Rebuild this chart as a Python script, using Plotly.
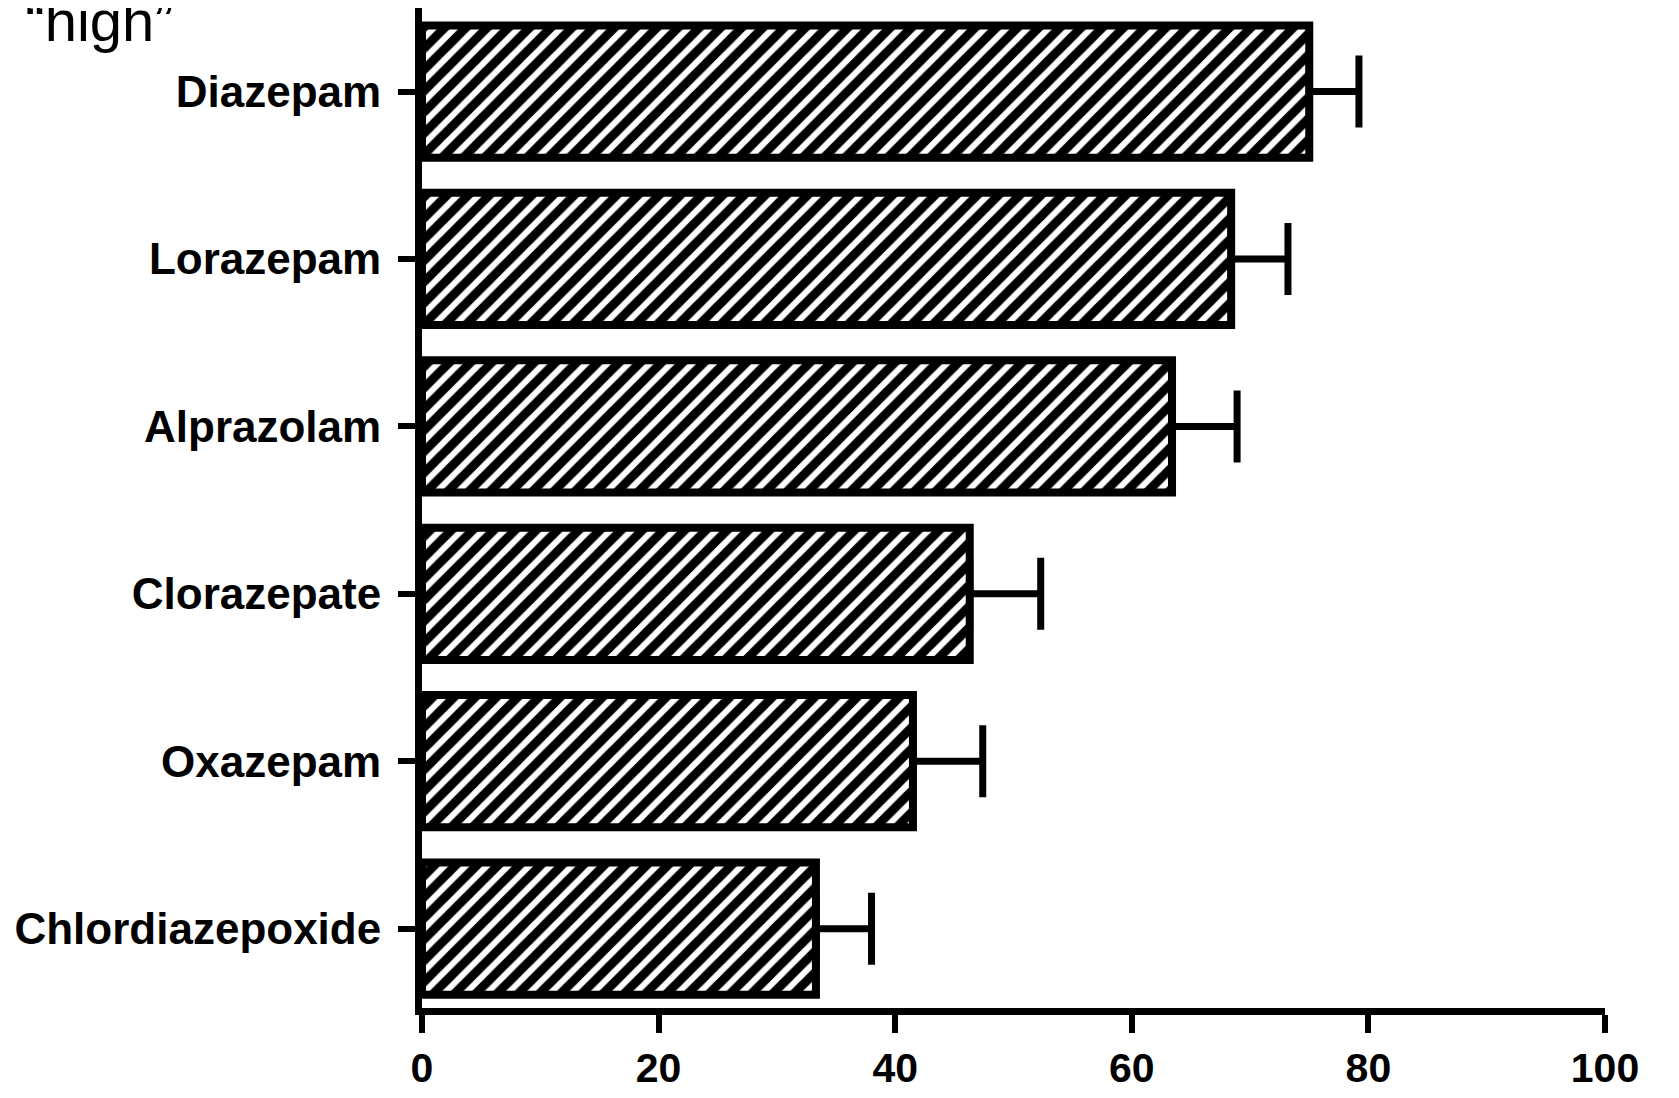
import plotly.graph_objects as go

drugs = ["Chlordiazepoxide", "Oxazepam", "Clorazepate", "Alprazolam", "Lorazepam", "Diazepam"]
values = [33.3, 41.5, 46.3, 63.4, 68.4, 75.0]
errors = [4.7, 5.9, 6.0, 5.5, 4.8, 4.2]
x_ticks = [0, 20, 40, 60, 80, 100]

W, H = 1663, 1082
L, R, T, B = 414, 66, 0, 82
PH = H - T - B

fig = go.Figure()
fig.add_trace(go.Bar(
    y=drugs, x=values, orientation="h", width=0.79,
    marker=dict(color="white",
                line=dict(color="black", width=8),
                pattern=dict(shape="/", fgcolor="black", bgcolor="white", fgopacity=1,
                             size=15, solidity=0.6, fillmode="replace")),
    error_x=dict(type="data", array=errors, arrayminus=[0]*len(errors),
                 symmetric=False, color="black", thickness=7, width=36),
    showlegend=False,
))

font_y = dict(family="Liberation Sans, Arial, sans-serif", size=44, color="black")
font_x = dict(family="Liberation Sans, Arial, sans-serif", size=41, color="black")

fig.update_layout(
    width=W, height=H,
    margin=dict(l=L, r=R, t=T, b=B),
    paper_bgcolor="white", plot_bgcolor="white",
    xaxis=dict(range=[0, 100], tickvals=x_ticks, ticktext=[f"<b>{v}</b>" for v in x_ticks],
               showgrid=False, zeroline=False, showline=True, linecolor="black", linewidth=7,
               ticks="outside", ticklen=18, tickwidth=6, tickcolor="black", automargin=False,
               tickfont=font_x, ticklabelstandoff=0),
    yaxis=dict(type="category", categoryarray=drugs, range=[-0.474, 5.499],
               tickvals=drugs, ticktext=[f"<b>{d}</b>" for d in drugs],
               showgrid=False, zeroline=False, showline=True, linecolor="black", linewidth=7,
               ticks="outside", ticklen=17, tickwidth=6, tickcolor="black", automargin=False,
               tickfont=font_y, ticklabelstandoff=8),
    annotations=[dict(text="e “high”", xref="paper", yref="paper",
                      x=(168 - L) / (W - L - R), y=1 - 47 / PH,
                      xanchor="right", yanchor="bottom", showarrow=False,
                      font=dict(family="Liberation Sans, Arial, sans-serif", size=58, color="black"))],
)

fig.write_html("out.html")
